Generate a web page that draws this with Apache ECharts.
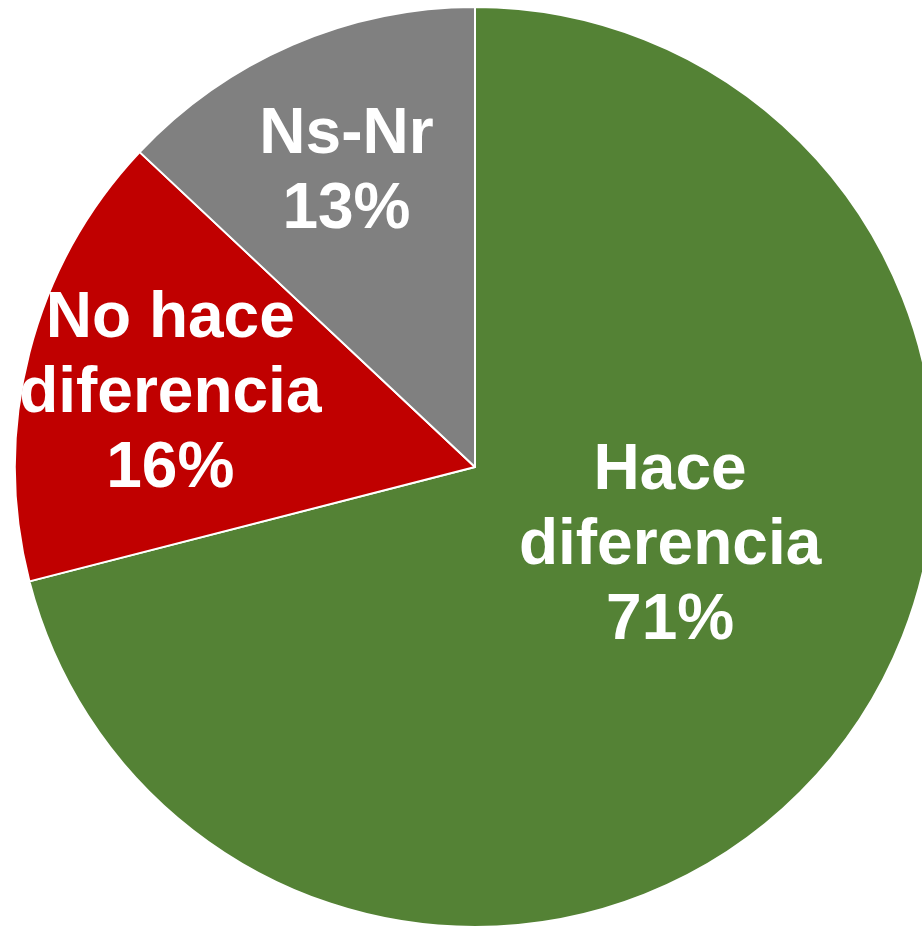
<!DOCTYPE html>
<html>
<head>
<meta charset="utf-8">
<script src="https://cdn.jsdelivr.net/npm/echarts@6/dist/echarts.min.js"></script>
<style>
  html, body { margin: 0; padding: 0; background: #fff; }
  #chart { width: 922px; height: 929px; }
</style>
</head>
<body>
<div id="chart"></div>
<script>
const categories = ['Hace\ndiferencia', 'No hace\ndiferencia', 'Ns-Nr']
const values = [71, 16, 13]
const colors = ['#548235', '#C00000', '#808080']
// nudge each label to where it sits in the original
const labelOffsets = [[11, -63], [-79, -15], [-36, -80]]

const chart = echarts.init(document.getElementById('chart'), null, { renderer: 'canvas' })

chart.setOption({
  animation: false,
  series: [{
    type: 'pie',
    center: [475, 467],
    radius: [0, 460],
    startAngle: 90,
    clockwise: true,
    avoidLabelOverlap: false,
    itemStyle: { borderColor: '#fff', borderWidth: 2 },
    label: {
      show: true,
      position: 'inside',
      formatter: p => p.name + '\n' + p.value + '%',
      color: '#fff',
      fontFamily: 'Liberation Sans, Arial, sans-serif',
      fontWeight: 'bold',
      fontSize: 64,
      lineHeight: 75,
      align: 'center'
    },
    labelLine: { show: false },
    emphasis: { disabled: true },
    data: categories.map((name, i) => ({
      name,
      value: values[i],
      itemStyle: { color: colors[i] },
      label: { offset: labelOffsets[i] }
    }))
  }]
})
</script>
</body>
</html>
